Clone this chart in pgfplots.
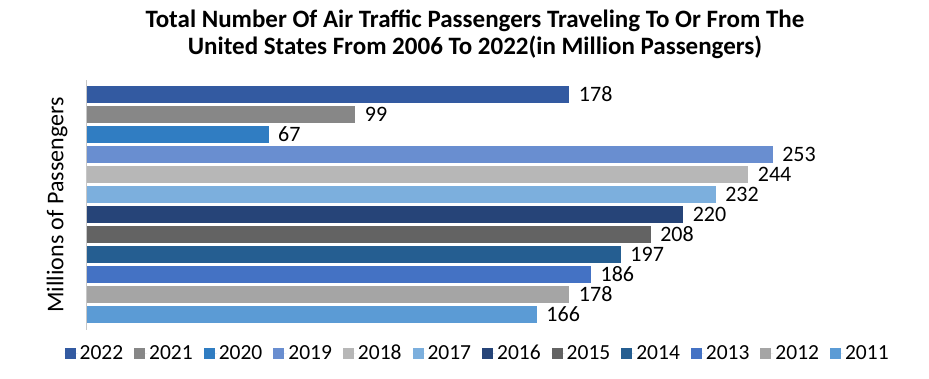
\documentclass[border=0pt]{standalone}
\usepackage{fontspec}
\setmainfont{Carlito}
\usepackage{pgfplots}
\pgfplotsset{compat=1.18}
\definecolor{c22}{HTML}{335AA1}
\definecolor{c21}{HTML}{878787}
\definecolor{c20}{HTML}{307DC2}
\definecolor{c19}{HTML}{698ED0}
\definecolor{c18}{HTML}{B7B7B7}
\definecolor{c17}{HTML}{7CAFDD}
\definecolor{c16}{HTML}{264478}
\definecolor{c15}{HTML}{636363}
\definecolor{c14}{HTML}{255E91}
\definecolor{c13}{HTML}{4472C4}
\definecolor{c12}{HTML}{A5A5A5}
\definecolor{c11}{HTML}{5B9BD5}
\begin{document}
\begin{tikzpicture}[x=1pt,y=1pt]
\path[use as bounding box] (0,0) rectangle (929,378);
\node[font=\bfseries\fontsize{25}{27}\selectfont, align=center] at (475,344) {Total Number Of Air Traffic Passengers Traveling To Or From The\\United States From 2006 To 2022(in Million Passengers)};
\begin{axis}[at={(87pt,48pt)}, anchor=south west, scale only axis,
  width=786pt, height=250pt, xmin=0, xmax=290, ymin=-0.7, ymax=11.8, y dir=reverse,
  xbar, bar width=0.85, bar shift=0pt,
  axis x line=none, axis y line*=left,
  y axis line style={draw=black!22, line width=1pt},
  xtick=\empty, ytick=\empty,
  ylabel={Millions of Passengers},
  ylabel style={font=\fontsize{24}{28}\selectfont, at={(axis description cs:-0.038,0.5)}, anchor=center},
  nodes near coords,
  /pgf/number format/assume math mode=true,
  every node near coord/.append style={font=\fontsize{22}{24}\selectfont, black, xshift=6pt},
  legend columns=12,
  legend style={draw=none, font=\fontsize{21.5}{24}\selectfont, at={(0.497,-0.092)}, anchor=center,
    /tikz/every even column/.append style={column sep=9pt}},
  legend image code/.code={\fill[#1] (0pt,-5.5pt) rectangle (11pt,5.5pt); \path (0pt,0pt) -- (13pt,0pt);},
]
\addplot[fill=c22, draw=none] coordinates {(178,0)}; \addlegendentry{2022}
\addplot[fill=c21, draw=none] coordinates {(99,1)}; \addlegendentry{2021}
\addplot[fill=c20, draw=none] coordinates {(67,2)}; \addlegendentry{2020}
\addplot[fill=c19, draw=none] coordinates {(253,3)}; \addlegendentry{2019}
\addplot[fill=c18, draw=none] coordinates {(244,4)}; \addlegendentry{2018}
\addplot[fill=c17, draw=none] coordinates {(232,5)}; \addlegendentry{2017}
\addplot[fill=c16, draw=none] coordinates {(220,6)}; \addlegendentry{2016}
\addplot[fill=c15, draw=none] coordinates {(208,7)}; \addlegendentry{2015}
\addplot[fill=c14, draw=none] coordinates {(197,8)}; \addlegendentry{2014}
\addplot[fill=c13, draw=none] coordinates {(186,9)}; \addlegendentry{2013}
\addplot[fill=c12, draw=none] coordinates {(178,10)}; \addlegendentry{2012}
\addplot[fill=c11, draw=none] coordinates {(166,11)}; \addlegendentry{2011}
\end{axis}
\end{tikzpicture}
\end{document}
